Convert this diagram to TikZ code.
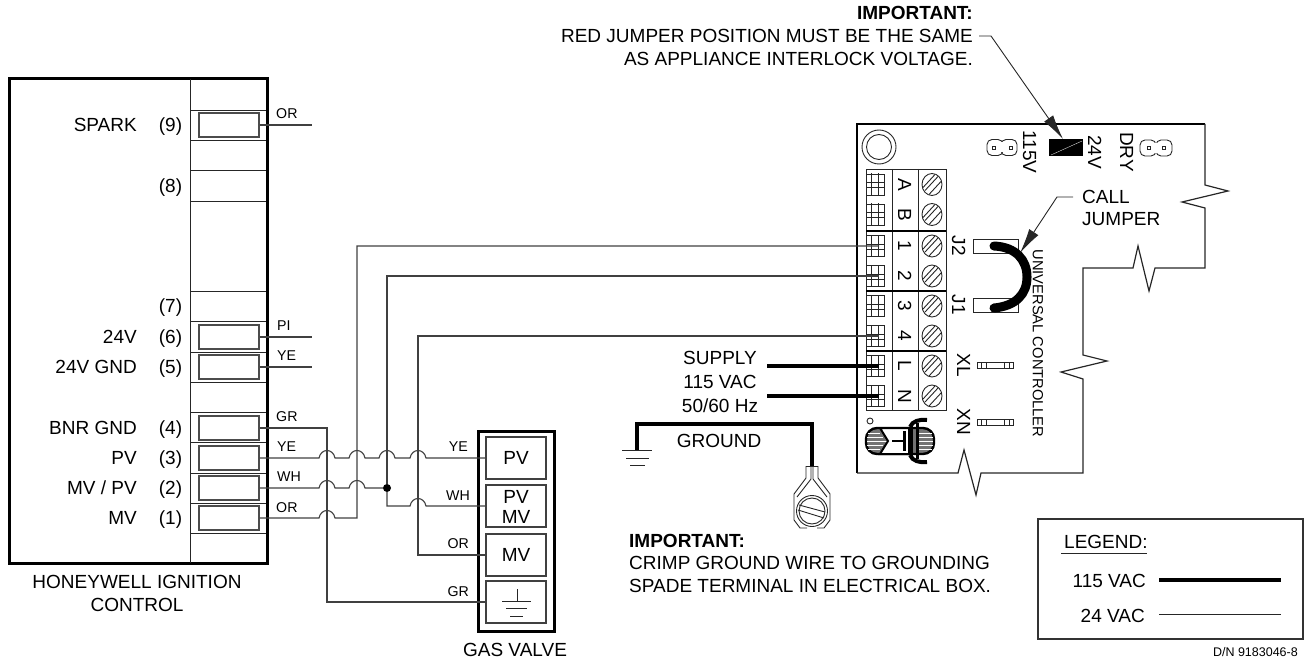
\documentclass[tikz,border=0pt]{standalone}
\usepackage{fontspec}
\setmainfont{Liberation Sans}
\usetikzlibrary{calc,arrows.meta,shapes.geometric}

\newcommand{\hop}[2]{-- (#1-8,#2) .. controls (#1-6,#2-10) and (#1+6,#2-10) .. (#1+8,#2)}

\tikzset{
  lab/.style={font=\fontsize{19}{22}\selectfont,inner sep=0pt,text height=13.6pt,text depth=0pt},
  tag/.style={font=\fontsize{14.2}{17}\selectfont,inner sep=0pt,text height=10.2pt,text depth=0pt},
  slim/.style={line width=0.9pt,black!85},
  wire/.style={line width=1.1pt,black!75},
  heavy/.style={line width=3.2pt,black},
  term/.style={draw,line width=1.1pt,black!70,minimum width=60,minimum height=24,inner sep=0pt},
  valvebox/.style={draw,line width=1.1pt,black!75,minimum width=60,minimum height=42,inner sep=0pt},
  pinbox/.style={draw,slim,minimum width=18,minimum height=21,inner sep=0pt,
    path picture={
      \draw[slim] (path picture bounding box.center) ++(-4,-11) -- ++(0,22);
      \draw[slim] (path picture bounding box.center) ++(3,-11) -- ++(0,22);
      \draw[slim] (path picture bounding box.center) ++(-10,-2) -- ++(20,0);
      \draw[slim] (path picture bounding box.center) ++(-10,3) -- ++(20,0);}},
  screw/.style={draw,ellipse,slim,minimum width=20,minimum height=22,inner sep=0pt,
    path picture={
      \draw[slim] (path picture bounding box.center) ++(-9,3) -- ++(12,-13);
      \draw[slim] (path picture bounding box.center) ++(-7,6) -- ++(13,-14);
      \draw[slim] (path picture bounding box.center) ++(-3,10) -- ++(12,-13);}},
  pad/.style={draw,slim,minimum width=36,minimum height=6,inner sep=0pt,
    path picture={
      \draw[slim] (path picture bounding box.center) ++(-14,-4) -- ++(0,8);
      \draw[slim] (path picture bounding box.center) ++(-9,-4) -- ++(0,8);
      \draw[slim] (path picture bounding box.center) ++(9,-4) -- ++(0,8);
      \draw[slim] (path picture bounding box.center) ++(14,-4) -- ++(0,8);}},
  lobe/.style={draw,slim,rounded corners=5,minimum width=16,minimum height=16,inner sep=0pt},
  pinhole/.style={draw,slim,minimum width=3.5,minimum height=3.5,inner sep=0pt},
  bigtip/.style={-{Latex[length=25,width=11]}},
}

\begin{document}
\begin{tikzpicture}[x=1pt,y=-1pt]
\useasboundingbox (0,0) rectangle (1313,660);

\draw[line width=3pt] (9,79) rectangle (267,563);
\draw[slim] (190.5,79) -- (190.5,563);
\draw[slim] (190.5,110) -- (266,110) (190.5,140) -- (266,140) (190.5,170) -- (266,170) (190.5,201) -- (266,201);
\draw[slim] (190.5,291) -- (266,291) (190.5,321) -- (266,321) (190.5,352) -- (266,352) (190.5,382) -- (266,382);
\draw[slim] (190.5,412) -- (266,412) (190.5,442) -- (266,442) (190.5,473) -- (266,473) (190.5,503) -- (266,503) (190.5,533) -- (266,533);

\node[lab,anchor=east] (sparktxt) at (137,125) {SPARK};
\node[lab,anchor=east] (v24txt) at (137,337) {24V};
\node[lab,anchor=east] (gnd24txt) at (137,367) {24V GND};
\node[lab,anchor=east] (bnrtxt) at (137,428) {BNR GND};
\node[lab,anchor=east] (pvtxt) at (137,458) {PV};
\node[lab,anchor=east] (mvpvtxt) at (137,488) {MV / PV};
\node[lab,anchor=east] (mvtxt) at (137,518) {MV};

\node[lab] (no9) at (170.5,125) {(9)};
\node[lab] (no8) at (170.5,186) {(8)};
\node[lab] (no7) at (170.5,306) {(7)};
\node[lab] (no6) at (170.5,337) {(6)};
\node[lab] (no5) at (170.5,367) {(5)};
\node[lab] (no4) at (170.5,428) {(4)};
\node[lab] (no3) at (170.5,458) {(3)};
\node[lab] (no2) at (170.5,488) {(2)};
\node[lab] (no1) at (170.5,518) {(1)};

\node[term] (t9) at (229,125) {};
\node[term] (t6) at (229,337) {};
\node[term] (t5) at (229,367) {};
\node[term] (t4) at (229,428) {};
\node[term] (t3) at (229,458) {};
\node[term] (t2) at (229,488) {};
\node[term] (t1) at (229,518) {};

\node[tag,anchor=west] (or9) at (276,113) {OR};
\node[tag,anchor=west] (pi6) at (277,325) {PI};
\node[tag,anchor=west] (ye5) at (277,355) {YE};
\node[tag,anchor=west] (gr4) at (276,416) {GR};
\node[tag,anchor=west] (ye3) at (277,446) {YE};
\node[tag,anchor=west] (wh2) at (277,476) {WH};
\node[tag,anchor=west] (or1) at (276,507) {OR};

\node[lab] (hwtxt) at (137,582) {HONEYWELL IGNITION};
\node[lab] (ctltxt) at (137,605) {CONTROL};

\coordinate (end9) at (312,125);
\coordinate (end6) at (312,337);
\coordinate (end5) at (312,367);
\draw[wire] (t9.east) -- (end9);
\draw[wire] (t6.east) -- (end6);
\draw[wire] (t5.east) -- (end5);


\draw[line width=3pt] (478,431) rectangle (554,631);
\node[valvebox] (vpv) at (516,458) {};
\node[valvebox] (vpm) at (516,506) {};
\node[valvebox] (vmv) at (516,555) {};
\node[valvebox] (vgn) at (516,602) {};

\node[lab] (vpvtxt) at (516,458) {PV};
\node[lab] (vpmtxt) at (516,497) {PV};
\node[lab] (vmptxt) at (516,517) {MV};
\node[lab] (vmvtxt) at (516,555) {MV};
\node[lab] (gastxt) at (515,650) {GAS VALVE};

\draw[slim] (517,589) -- (517,601);
\draw[slim] (502,601) -- (531,601);
\draw[slim] (506,608) -- (527,608);
\draw[slim] (510,616) -- (523,616);

\node[tag,anchor=east] (yev) at (468,446) {YE};
\node[tag,anchor=east] (whv) at (470,495) {WH};
\node[tag,anchor=east] (orv) at (469,543) {OR};
\node[tag,anchor=east] (grv) at (469,591) {GR};


\draw[line width=2.6pt] (857,473) -- (857,124) -- (1205,124);
\draw[slim,line width=1.2pt] (1205,124) -- (1205,185) -- (1228,191) -- (1182,202) -- (1205,208) -- (1205,268) -- (1155,268) -- (1149,291) -- (1138,246) -- (1133,268) -- (1083,268) -- (1083,355) -- (1107,361) -- (1061,372) -- (1083,379) -- (1083,473) -- (981,473) -- (976,495) -- (964,450) -- (958,473) -- (857,473);

\node[circle,draw,slim,minimum size=34,inner sep=0pt] (ringout) at (879,147) {};
\node[circle,draw,slim,minimum size=25,inner sep=0pt] (ringin) at (879,147) {};

\draw[slim] (866,169) rectangle (946,410);
\draw[slim] (892,169) -- (892,410);
\draw[slim] (918,169) -- (918,410);
\draw[line width=2pt] (866,231) -- (946,231);
\draw[line width=2pt] (866,291) -- (946,291);
\draw[line width=2pt] (866,351) -- (946,351);

\coordinate (a) at (875,184.5);
\node[pinbox] (boxA) at (a) {};
\node[lab,rotate=-90] (letA) at ($ (a) + (30,0) $) {A};
\node[screw] (screwA) at ($ (a) + (57,0) $) {};

\coordinate (a) at (875,214.5);
\node[pinbox] (boxB) at (a) {};
\node[lab,rotate=-90] (letB) at ($ (a) + (30,0) $) {B};
\node[screw] (screwB) at ($ (a) + (57,0) $) {};

\coordinate (a) at (875,246);
\node[pinbox] (box1) at (a) {};
\node[lab,rotate=-90] (let1) at ($ (a) + (30,0) $) {1};
\node[screw] (screw1) at ($ (a) + (57,0) $) {};

\coordinate (a) at (875,276);
\node[pinbox] (box2) at (a) {};
\node[lab,rotate=-90] (let2) at ($ (a) + (30,0) $) {2};
\node[screw] (screw2) at ($ (a) + (57,0) $) {};

\coordinate (a) at (875,306);
\node[pinbox] (box3) at (a) {};
\node[lab,rotate=-90] (let3) at ($ (a) + (30,0) $) {3};
\node[screw] (screw3) at ($ (a) + (57,0) $) {};

\coordinate (a) at (875,336);
\node[pinbox] (box4) at (a) {};
\node[lab,rotate=-90] (let4) at ($ (a) + (30,0) $) {4};
\node[screw] (screw4) at ($ (a) + (57,0) $) {};

\coordinate (a) at (875,366);
\node[pinbox] (boxL) at (a) {};
\node[lab,rotate=-90] (letL) at ($ (a) + (30,0) $) {L};
\node[screw] (screwL) at ($ (a) + (57,0) $) {};

\coordinate (a) at (875,396);
\node[pinbox] (boxN) at (a) {};
\node[lab,rotate=-90] (letN) at ($ (a) + (30,0) $) {N};
\node[screw] (screwN) at ($ (a) + (57,0) $) {};

\coordinate (pin1) at (879,246);
\coordinate (pin2) at (879,276);
\coordinate (pin4) at (879,336);
\coordinate (pinL) at (879,366);
\coordinate (pinN) at (879,396);


\node[lobe] (lobe1) at (995,147.5) {};
\node[lobe] (lobe2) at (1009,147.5) {};
\node[fill=white,inner sep=0pt,minimum width=4,minimum height=10] (neck1) at (1002,147.5) {};
\node[pinhole] (hole1) at (994,148) {};
\node[pinhole] (hole2) at (1011,148) {};

\node[lobe] (lobe3) at (1148,148) {};
\node[lobe] (lobe4) at (1164,148) {};
\node[fill=white,inner sep=0pt,minimum width=4,minimum height=10] (neck2) at (1156,148) {};
\node[pinhole] (hole3) at (1149,148) {};
\node[pinhole] (hole4) at (1164,148) {};

\node[fill=black,minimum width=34,minimum height=17,inner sep=0pt] (jumper) at (1066,147.5) {};
\draw[white,line width=0.3pt] (1051,155) -- (1082,141);
\coordinate (jumpertip) at (1063,139);

\node[lab,rotate=-90] (txt115) at (1030,152) {115V};
\node[lab,rotate=-90] (txt24) at (1095,152) {24V};
\node[lab,rotate=-90] (txtdry) at (1127,152) {DRY};
\node[lab,rotate=-90] (txtj2) at (959,246) {J2};
\node[lab,rotate=-90] (txtj1) at (959,305) {J1};
\node[lab,rotate=-90] (txtxl) at (964,365) {XL};
\node[lab,rotate=-90] (txtxn) at (964,422) {XN};
\node[tag,rotate=-90,font=\fontsize{14.7}{17}\selectfont] (txtuc) at (1038,343.5) {UNIVERSAL CONTROLLER};

\draw[slim] (1018,253) -- (973,253) -- (973,239) -- (1018,239) -- (1018,253);
\draw[slim] (1018,298) -- (973,298) -- (973,312) -- (1018,312) -- (1018,298);
\draw[line width=9pt,line cap=round] (994,246) .. controls (1016,247) and (1027,260) .. (1027,277) .. controls (1027,294) and (1016,306) .. (994,308);

\node[pad] (padxl) at (995,365) {};
\node[pad] (padxn) at (995,422.5) {};

\node[lab,anchor=west] (calltxt) at (1082,197) {CALL};
\node[lab,anchor=west] (jumptxt) at (1082,219) {JUMPER};
\coordinate (calltip) at (1020,253);
\draw[slim,bigtip] ($ (calltxt.west) + (-9,0) $) -- (1057,197) -- (calltip);


\node[lab,anchor=east,font=\fontsize{19}{22}\selectfont\bfseries] (imp1) at (973,13) {IMPORTANT:};
\node[lab,anchor=east] (imp2) at (973,36) {RED JUMPER POSITION MUST BE THE SAME};
\node[lab,anchor=east] (imp3) at (973,59) {AS APPLIANCE INTERLOCK VOLTAGE.};
\draw[slim,bigtip] ($ (imp2.east) + (6,0) $) -- (991,36) -- (jumpertip);


% wires to the gas valve
\draw[wire] (t4.east) -| (327,602) -- (vgn.west);
\draw[wire] (t3.east) \hop{327}{458} \hop{357}{458} \hop{387}{458} \hop{418}{458} -- (vpv.west);
\node[circle,fill=black,minimum size=8,inner sep=0pt] (joint) at (387,488) {};
\draw[wire] (t2.east) \hop{327}{488} \hop{357}{488} -- (joint);
\draw[wire] (t1.east) \hop{327}{518} -- (357,518) |- (pin1);
\draw[wire] (joint) |- (pin2);
\draw[wire] (joint) -- (387,506) \hop{418}{506} -- (vpm.west);
\draw[wire] (pin4) -| (418,555) -- (vmv.west);


\node[lab] (suptxt) at (720,358) {SUPPLY};
\node[lab] (vactxt) at (720,382) {115 VAC};
\node[lab] (hztxt) at (720,406) {50/60 Hz};
\coordinate (supL) at (767,366);
\coordinate (supN) at (767,396);
\draw[heavy] (supL) -- (pinL);
\draw[heavy] (supN) -- (pinN);

\coordinate (earth) at (637,450);
\coordinate (spade) at (812,466);
\draw[heavy] (earth) |- (812,424) -- (spade);
\draw[slim] (622,450) -- (652,450);
\draw[slim] (626,458) -- (649,458);
\draw[slim] (630,465) -- (645,465);
\node[lab] (gndtxt) at (719,441) {GROUND};

\draw[slim] (806,466) -- (806,478) -- (794,494) -- (794,520) -- (800,528) -- (807,528);
\draw[slim] (818,466) -- (818,478) -- (830,494) -- (830,520) -- (824,528) -- (817,528);
\draw[slim] (806,466) -- (818,466);
\draw[slim] (811,466) -- (811,479) -- (797,497);
\draw[slim] (813,466) -- (813,479) -- (827,497);
\node[circle,draw,slim,fill=white,minimum size=31,inner sep=0pt] (spadeout) at (812,511) {};
\node[circle,draw,slim,minimum size=26,inner sep=0pt] (spadein) at (812,511) {};
\draw[slim] (799,505) -- (825,512);
\draw[slim] (798,510) -- (824,518);

\node[lab,anchor=west,font=\fontsize{19}{22}\selectfont\bfseries] (crimp1) at (629,541) {IMPORTANT:};
\node[lab,anchor=west] (crimp2) at (629,563) {CRIMP GROUND WIRE TO GROUNDING};
\node[lab,anchor=west] (crimp3) at (629,586) {SPADE TERMINAL IN ELECTRICAL BOX.};


\node[circle,draw,slim,minimum size=6,inner sep=0pt] (regmark) at (870,421) {};
\draw[line width=2.4pt,fill=black!55,rounded corners=11] (866,428) rectangle (934,454);
\draw[white,line width=0.6pt] (868,433) -- (880,433) (867,437) -- (883,437) (867,441) -- (887,441) (867,445) -- (883,445) (868,449) -- (880,449);
\draw[white,line width=0.6pt] (919,433) -- (932,433) (919,437) -- (933,437) (919,441) -- (933,441) (919,445) -- (933,445) (919,449) -- (932,449);
\draw[line width=2pt,fill=white] (880,428) -- (909,428) -- (909,454) -- (880,454) -- (888,441) -- cycle;
\draw[line width=3pt] (904,431) -- (904,451);
\draw[line width=2pt] (892,441) -- (904,441);
\draw[line width=3pt] (911,423) -- (911,459);
\draw[line width=3pt] (917,423) -- (917,459);
\draw[line width=4pt] (910,427) .. controls (912,421) and (920,419) .. (927,420);
\draw[line width=4pt] (910,455) .. controls (912,461) and (920,463) .. (927,462);


\draw[line width=1.1pt,black!80] (1038,519) rectangle (1303,639);
\node[lab,anchor=west] (legtxt) at (1064,542) {LEGEND:};
\draw[slim] (1061,553) -- (1147,553);
\node[lab,anchor=east] (leg115) at (1146,581) {115 VAC};
\node[lab,anchor=east] (leg24) at (1145,616) {24 VAC};
\coordinate (legA) at (1159,580);
\coordinate (legB) at (1281,580);
\coordinate (legC) at (1159,614);
\coordinate (legD) at (1281,614);
\draw[heavy] (legA) -- (legB);
\draw[slim] (legC) -- (legD);
\node[anchor=east,inner sep=0pt,font=\fontsize{12.5}{15}\selectfont] (dntxt) at (1298,652) {D/N 9183046-8};

\end{tikzpicture}
\end{document}
